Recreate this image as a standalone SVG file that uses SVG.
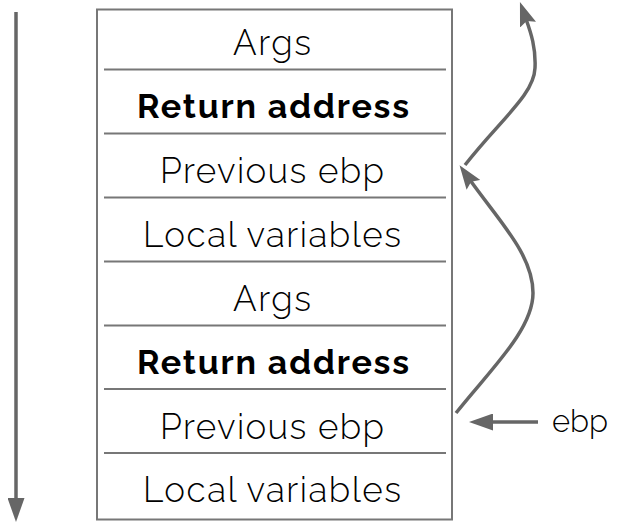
<svg xmlns="http://www.w3.org/2000/svg" width="620" height="523" viewBox="0 0 620 523">
<style>
.t{font-family:"Raleway","Open Sans","Lato",sans-serif;font-weight:300;font-size:35px;fill:#000;text-anchor:middle}
.b{font-weight:700;font-size:34px}
.sep{stroke:#777;stroke-width:2}
.c{fill:none;stroke:#666;stroke-width:3.5}
</style>
<defs>
<marker id="ah" viewBox="0 0 24 17" refX="6" refY="8.5" markerWidth="24" markerHeight="17" markerUnits="userSpaceOnUse" orient="auto"><path d="M0,0 L24,8.5 L0,17 L4,8.5 z" fill="#666"/></marker>
<marker id="ahs" viewBox="0 0 24 17" refX="4" refY="8.5" markerWidth="24" markerHeight="17" markerUnits="userSpaceOnUse" orient="auto"><path d="M0,0 L24,8.5 L0,17 z" fill="#666"/></marker>
</defs>
<rect x="97" y="9.5" width="355" height="510" fill="#fff" stroke="#777" stroke-width="2"/>
<g id="row1"><text class="t" x="272" y="55" textLength="78">Args</text></g>
<line class="sep" x1="104" y1="69.5" x2="446" y2="69.5"/>
<g id="row2"><text class="t b" x="273" y="118" textLength="272">Return address</text></g>
<line class="sep" x1="104" y1="133.5" x2="446" y2="133.5"/>
<g id="row3"><text class="t" x="272" y="183" textLength="224">Previous ebp</text></g>
<line class="sep" x1="104" y1="197.5" x2="446" y2="197.5"/>
<g id="row4"><text class="t" x="272" y="247" textLength="258">Local variables</text></g>
<line class="sep" x1="104" y1="261.5" x2="446" y2="261.5"/>
<g id="row5"><text class="t" x="272" y="311" textLength="78">Args</text></g>
<line class="sep" x1="104" y1="325.5" x2="446" y2="325.5"/>
<g id="row6"><text class="t b" x="273" y="374" textLength="272">Return address</text></g>
<line class="sep" x1="104" y1="389" x2="446" y2="389"/>
<g id="row7"><text class="t" x="272" y="439" textLength="224">Previous ebp</text></g>
<line class="sep" x1="104" y1="453" x2="446" y2="453"/>
<g id="row8"><text class="t" x="272" y="502" textLength="258">Local variables</text></g>
<g id="ebp-label"><text class="t" x="580" y="432" style="font-size:31px">ebp</text></g>
<g id="connectors">
<path class="c" d="M16,12 L16,502" marker-end="url(#ahs)"/>
<path class="c" d="M456,413 C490,370 533,330 533,293 C533,255 500,222 470,180" marker-end="url(#ah)"/>
<path class="c" d="M465,165 C500,120 534,95 535,68 C536,48 531,33 526,19" marker-end="url(#ah)"/>
<path class="c" d="M538,422 L489,422" marker-end="url(#ahs)"/>
</g>
</svg>
